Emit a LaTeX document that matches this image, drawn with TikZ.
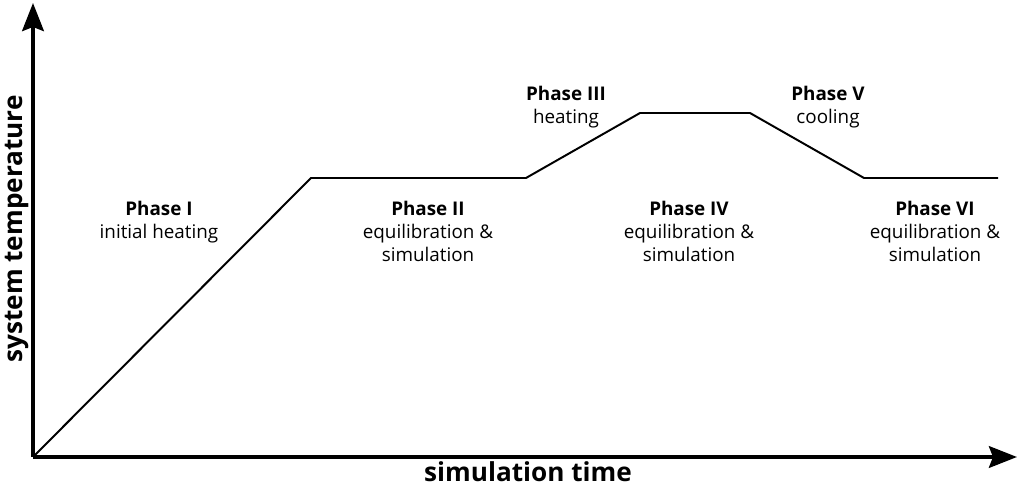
\documentclass[tikz,border=0pt]{standalone}
\usepackage{fontspec}
\setmainfont{Open Sans}
\usetikzlibrary{arrows.meta}
\tikzset{
  phase/.style={align=center, anchor=north, font=\fontsize{13.4}{16.3}\selectfont, inner sep=0pt},
  axislabel/.style={font=\fontsize{18.6}{22}\selectfont\bfseries, inner sep=0pt}
}
\begin{document}
\begin{tikzpicture}[>={Stealth[length=7mm, width=5.4mm, inset=1mm]}, x=0.25cm, y=0.25cm]
  \useasboundingbox (-3.3, -2.8) rectangle (99.1, 45.7);
  \coordinate (O) at (0, 0);
  \coordinate (ytip) at (0, 45.4);
  \coordinate (xtip) at (98.4, 0);
  \draw[->, line width=2.8pt] (O) -- (ytip);
  \draw[->, line width=2.8pt] (O) -- (xtip);

  % temperature profile
  \coordinate (a) at (27.8, 27.9);
  \coordinate (b) at (49.3, 27.9);
  \coordinate (c) at (60.7, 34.4);
  \coordinate (d) at (71.7, 34.4);
  \coordinate (e) at (83.1, 27.9);
  \coordinate (f) at (96.5, 27.9);
  \draw[line width=1.4pt, line join=miter] (O) -- (a) -- (b) -- (c) -- (d) -- (e) -- (f);

  \node[phase] (p1) at (12.6, 25.6) {\textbf{Phase I}\\initial heating};
  \node[phase] (p2) at (39.5, 25.6) {\textbf{Phase II}\\equilibration \&\\simulation};
  \node[phase] (p3) at (53.3, 37.1) {\textbf{Phase III}\\heating};
  \node[phase] (p4) at (65.6, 25.6) {\textbf{Phase IV}\\equilibration \&\\simulation};
  \node[phase] (p5) at (79.5, 37.1) {\textbf{Phase V}\\cooling};
  \node[phase] (p6) at (90.2, 25.6) {\textbf{Phase VI}\\equilibration \&\\simulation};

  \node[axislabel] (xlab) at (49.5, -1.5) {simulation time};
  \node[axislabel, rotate=90] (ylab) at (-1.6, 22.8) {system temperature};
\end{tikzpicture}
\end{document}
